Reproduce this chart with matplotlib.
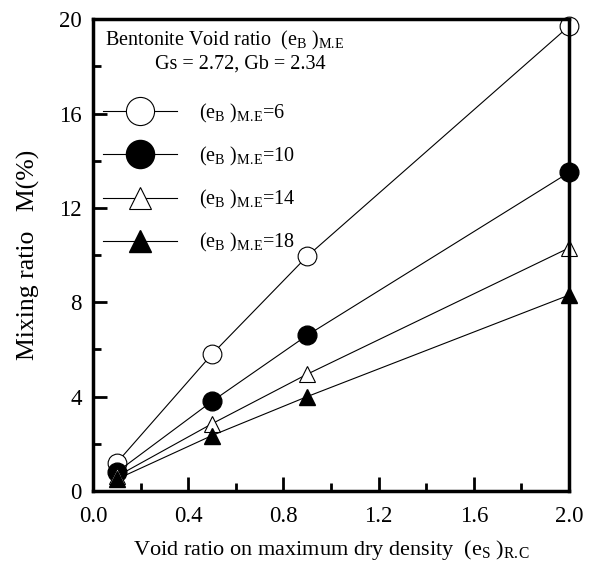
import numpy as np
import matplotlib.pyplot as plt
from matplotlib.ticker import MultipleLocator

plt.rcParams['font.family'] = ['Liberation Serif', 'DejaVu Serif']
plt.rcParams['mathtext.fontset'] = 'custom'
plt.rcParams['mathtext.rm'] = 'Liberation Serif'

# void ratio (es)R.C and mixing ratio M(%) for each bentonite void ratio
es = [0.1, 0.5, 0.9, 2.0]
m_e6 = [1.2, 5.8, 9.95, 19.7]
m_e10 = [0.8, 3.8, 6.6, 13.5]
m_e14 = [0.62, 2.85, 4.95, 10.3]
m_e18 = [0.5, 2.35, 4.0, 8.3]
eb_values = [6, 10, 14, 18]

fig = plt.figure(figsize=(5.93, 5.63), dpi=100)
ax = fig.add_axes([0.157, 0.128, 0.8025, 0.838])

sub_eb = r'(e$_{\rm B}$ )$_{\rm M.\!E}$'

lw = 0.8
ax.plot(es, m_e6, '-', color='black', lw=lw, marker='o', ms=13.5, mfc='white', mec='black', mew=0.8,
        label=sub_eb + '=%d' % eb_values[0])
ax.plot(es, m_e10, '-', color='black', lw=lw, marker='o', ms=13.5, mfc='black', mec='black',
        label=sub_eb + '=%d' % eb_values[1])
ax.plot(es, m_e14, '-', color='black', lw=lw, marker='^', ms=11, mfc='white', mec='black', mew=0.8,
        label=sub_eb + '=%d' % eb_values[2])
ax.plot(es, m_e18, '-', color='black', lw=lw, marker='^', ms=11, mfc='black', mec='black',
        label=sub_eb + '=%d' % eb_values[3])

for line in ax.lines:
    line.set_clip_on(False)

ax.set_xlim(0, 2.0)
ax.set_ylim(0, 20)
ax.xaxis.set_major_locator(MultipleLocator(0.4))
ax.xaxis.set_minor_locator(MultipleLocator(0.2))
ax.yaxis.set_major_locator(MultipleLocator(4))
ax.yaxis.set_minor_locator(MultipleLocator(2))
ax.xaxis.set_major_formatter(lambda v, p: '%.1f' % v)
ax.tick_params(which='both', direction='in', top=False, right=False, labelsize=16.5, width=2)
ax.tick_params(which='major', length=10)
ax.tick_params(which='minor', length=6)
ax.tick_params(axis='x', pad=11)
ax.tick_params(axis='y', pad=8)
for s in ax.spines.values():
    s.set_linewidth(2.5)

ax.set_xlabel(r'Void ratio on maximum dry density  (e$_{\rm S}$ )$_{\rm R.\!C}$', fontsize=16, labelpad=8)
ax.set_ylabel('Mixing ratio   M(%)', fontsize=18.5, labelpad=14)

ax.text(0.025, 0.955, r'Bentonite Void ratio  ' + sub_eb, transform=ax.transAxes,
        fontsize=14.5, va='center', ha='left')
ax.text(0.31, 0.905, 'Gs = 2.72, Gb = 2.34', transform=ax.transAxes,
        fontsize=14.5, va='center', ha='center')

ax.legend(loc='upper left', bbox_to_anchor=(0.02, 0.825), frameon=False, fontsize=14.5,
          handlelength=3.7, handletextpad=1.1, labelspacing=1.0, borderpad=0,
          borderaxespad=0, markerscale=1.5)

fig.savefig('out.png', dpi=100)
